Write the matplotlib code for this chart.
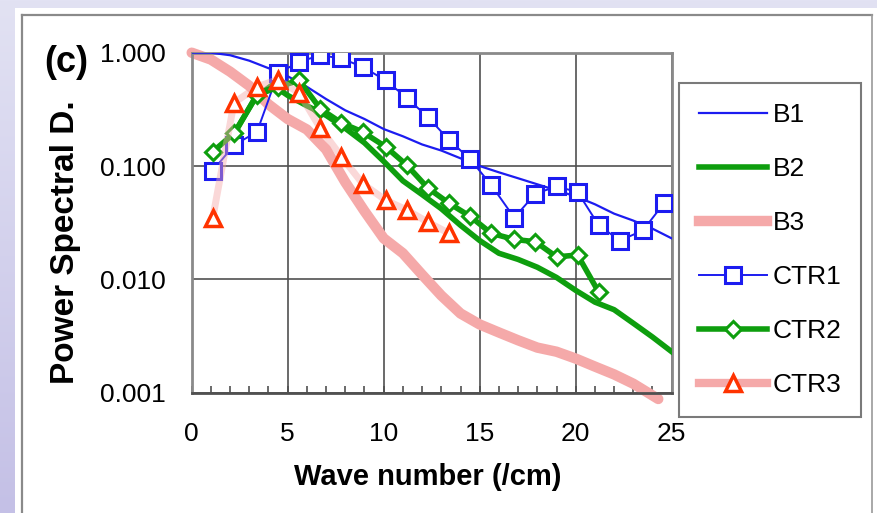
import numpy as np
import matplotlib.pyplot as plt
from matplotlib.patches import Rectangle
from matplotlib.lines import Line2D
from matplotlib.colors import LinearSegmentedColormap

plt.rcParams['font.family'] = ['Liberation Sans', 'DejaVu Sans']

# model curves
k_b = [0, 1, 2, 3, 4, 5, 6, 7, 8, 9, 10, 11, 12, 13, 14, 15, 16, 17, 18, 19, 20, 21, 22, 23, 24, 25]
b1 = [1.0, 1.0, 0.95, 0.85, 0.73, 0.62, 0.50, 0.39, 0.31, 0.26, 0.212, 0.183, 0.155, 0.137, 0.117,
      0.100, 0.088, 0.078, 0.069, 0.061, 0.054, 0.046, 0.038, 0.033, 0.028, 0.023]
k_b2 = [2.2, 3.3, 4.2, 5, 6, 7, 8, 9, 10, 11, 12, 13, 14, 15, 16, 17, 18, 19, 20, 21, 22, 23, 24, 25]
b2 = [0.19, 0.40, 0.52, 0.42, 0.34, 0.28, 0.215, 0.16, 0.11, 0.074, 0.056, 0.042, 0.030, 0.022,
      0.017, 0.0150, 0.0128, 0.0104, 0.0080, 0.0063, 0.0054, 0.0041, 0.0031, 0.0023]
k_b3 = [0, 1, 2, 3, 4, 5, 6, 7, 8, 9, 10, 11, 12, 13, 14, 15, 16, 17, 18, 19, 20, 21, 22, 23, 24.3]
b3 = [1.0, 0.87, 0.68, 0.51, 0.35, 0.26, 0.21, 0.14, 0.072, 0.040, 0.023, 0.017, 0.011, 0.0072,
      0.0050, 0.0040, 0.0034, 0.0029, 0.0025, 0.0023, 0.0020, 0.0017, 0.00145, 0.0012, 0.00088]

# measured spectra
k_ctr = [1.1, 2.2, 3.4, 4.5, 5.6, 6.7, 7.8, 8.9, 10.1, 11.2, 12.3, 13.4, 14.5, 15.6, 16.8,
         17.9, 19.0, 20.1, 21.2, 22.3, 23.5, 24.6]
ctr1 = [0.091, 0.153, 0.20, 0.66, 0.83, 0.95, 0.89, 0.75, 0.57, 0.40, 0.27, 0.17, 0.115,
        0.068, 0.035, 0.057, 0.066, 0.059, 0.030, 0.022, 0.027, 0.047]
ctr2 = [0.134, 0.194, 0.42, 0.50, 0.57, 0.32, 0.24, 0.20, 0.148, 0.102, 0.064, 0.047, 0.036,
        0.0255, 0.0225, 0.0215, 0.0158, 0.0164, 0.0077]
ctr3 = [0.035, 0.36, 0.50, 0.58, 0.44, 0.215, 0.121, 0.070, 0.050, 0.041, 0.032, 0.0255]

xticks = [0, 5, 10, 15, 20, 25]
yticks = [0.001, 0.01, 0.1, 1.0]
ylabels = ['0.001', '0.010', '0.100', '1.000']

blue = '#1c1cf0'
green = '#0e9e0e'
pink = '#f5a9a9'
red = '#ff3300'

W, H = 878, 513
fig = plt.figure(figsize=(W / 100, H / 100), dpi=100)

# lavender background with a white panel
bg = fig.add_axes([0, 0, 1, 1], zorder=-2)
grad = np.linspace(0, 1, 256).reshape(-1, 1)
cm = LinearSegmentedColormap.from_list('lav', ['#e2e2f3', '#c4c0e6'])
bg.imshow(grad, aspect='auto', cmap=cm, extent=[0, 1, 0, 1])
bg.axis('off')
fig.patches.append(Rectangle((15 / W, 0), 1, 1 - 8 / H, transform=fig.transFigure,
                             facecolor='white', edgecolor='none', zorder=-1))
fig.lines.append(Line2D([22 / W, 872 / W], [1 - 15 / H, 1 - 15 / H], transform=fig.transFigure,
                        color='#8a8a8a', lw=1.6, zorder=-0.5))
fig.lines.append(Line2D([22 / W, 22 / W], [0, 1 - 15 / H], transform=fig.transFigure,
                        color='#8a8a8a', lw=1.6, zorder=-0.5))
fig.lines.append(Line2D([872 / W, 872 / W], [0, 1 - 15 / H], transform=fig.transFigure,
                        color='#9a9a9a', lw=1.2, zorder=-0.5))

ax = fig.add_axes([191.7 / W, 1 - 392.7 / H, 480 / W, 340 / H])
ax.set_yscale('log')

ax.plot(k_b3, b3, color=pink, lw=7.5, solid_capstyle='round', clip_on=False, zorder=2)
ax.plot(k_b2, b2, color=green, lw=4, zorder=3)
ax.plot(k_b, b1, color=blue, lw=1.6, zorder=4)
ax.plot(k_ctr, ctr1, color=blue, lw=1.4, marker='s', ms=11.5, mfc='white', mec=blue, mew=2.2,
        zorder=5)
ax.plot(k_ctr[:len(ctr2)], ctr2, color=green, lw=4, marker='D', ms=8.5, mfc='white', mec=green,
        mew=2.2, zorder=6)
ax.plot(k_ctr[:len(ctr3)], ctr3, color=pink, lw=5, alpha=0.45, zorder=6.5)
ax.plot(k_ctr[:len(ctr3)], ctr3, ls='none', marker='^', ms=12, mfc='white', mec=red,
        mew=2.5, zorder=7)

ax.set_xlim(0, 25)
ax.set_ylim(0.001, 1.0)
ax.set_xticks(xticks)
ax.set_xticks(range(26), minor=True)
ax.set_yticks(yticks)
ax.set_yticklabels(ylabels)
ax.yaxis.set_minor_locator(plt.NullLocator())
ax.tick_params(axis='x', which='both', direction='in', length=5, width=1.2, color='#505050',
               labelsize=19, pad=21)
ax.tick_params(axis='y', length=0, labelsize=19, pad=19)
ax.grid(True, which='major', color='#505050', lw=1.2)
for s in ax.spines.values():
    s.set_color('#8a8a8a')
    s.set_linewidth(2)
ax.spines['bottom'].set_color('#505050')

ax.set_xlabel('Wave number (/cm)', fontsize=21, fontweight='bold', va='center')
ax.xaxis.set_label_coords((428 - 191.7) / 480, (392.7 - 477) / 340)
ax.set_ylabel('Power Spectral D.', fontsize=24, fontweight='bold', va='center', ha='center')
ax.yaxis.set_label_coords((66 - 191.7) / 480, (392.7 - 242) / 340)
fig.text(66 / W, 1 - 62 / H, '(c)', fontsize=26, fontweight='bold', ha='center', va='center')

handles = [
    Line2D([], [], color=blue, lw=1.6),
    Line2D([], [], color=green, lw=4),
    Line2D([], [], color=pink, lw=7.5),
    Line2D([], [], color=blue, lw=1.4, marker='s', ms=11.5, mfc='white', mec=blue, mew=2.2),
    Line2D([], [], color=green, lw=4, marker='D', ms=8.5, mfc='white', mec=green, mew=2.2),
    Line2D([], [], color=pink, lw=6, marker='^', ms=12, mfc='white', mec=red, mew=2.5),
]
names = ['B1', 'B2', 'B3', 'CTR1', 'CTR2', 'CTR3']
leg = ax.legend(handles, names, loc='upper left',
                bbox_to_anchor=(679 / W, 1 - 83 / H), bbox_transform=fig.transFigure,
                borderaxespad=0, fontsize=19, handlelength=2.6, handletextpad=0.2,
                labelspacing=1.14, borderpad=0.75, fancybox=False, framealpha=1)
leg.get_frame().set_edgecolor('#7a7a7a')
leg.get_frame().set_linewidth(1.5)

fig.savefig('out.png', dpi=100)
